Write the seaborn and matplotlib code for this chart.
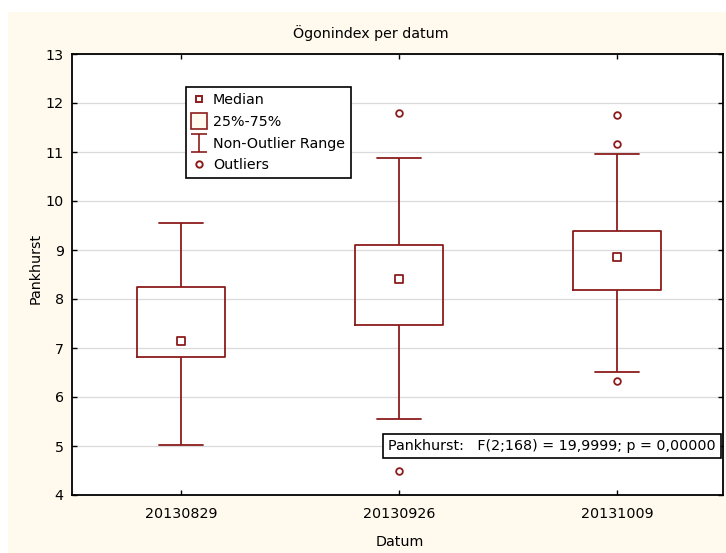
import matplotlib
matplotlib.use("Agg")
import numpy as np
import pandas as pd
import matplotlib.pyplot as plt
import seaborn as sns
from matplotlib.lines import Line2D
from matplotlib.path import Path
from matplotlib.patches import Rectangle

# ---- data ----
categories = ["20130829", "20130926", "20131009"]
whisker_lo = [5.02, 5.55, 6.52]
q1 = [6.81, 7.46, 8.19]
median = [7.15, 8.40, 8.85]
q3 = [8.25, 9.11, 9.38]
whisker_hi = [9.56, 10.87, 10.96]
outlier_cat = ["20130926", "20130926", "20131009", "20131009", "20131009"]
outlier_val = [11.79, 4.49, 11.76, 11.16, 6.32]
ytick_vals = [4, 5, 6, 7, 8, 9, 10, 11, 12, 13]
title = "Ögonindex per datum"
xlabel = "Datum"
ylabel = "Pankhurst"
stats_text = "Pankhurst:   F(2;168) = 19,9999; p = 0,00000"
legend_labels = ["Median", "25%-75%", "Non-Outlier Range", "Outliers"]

RED = "#8C1C1C"
CREAM = "#FFF9EE"
FS = 10.3

sns.set_style("ticks")
plt.rcParams["font.family"] = ["DejaVu Sans"]
plt.rcParams["text.color"] = "black"
plt.rcParams["axes.labelcolor"] = "black"
plt.rcParams["xtick.color"] = "black"
plt.rcParams["ytick.color"] = "black"

# five-number summary per group -> seaborn computes the same quartiles
rows = []
for c, lo, a, m, b, hi in zip(categories, whisker_lo, q1, median, q3, whisker_hi):
    for v in (lo, a, m, b, hi):
        rows.append({"Datum": c, "Pankhurst": v})
df = pd.DataFrame(rows)

fig = plt.figure(figsize=(7.26, 5.53), dpi=100, facecolor="white")
fig.patches.append(Rectangle((8 / 726, 0), 1, 1 - 12 / 553, transform=fig.transFigure,
                             facecolor=CREAM, edgecolor="none", zorder=-10))
ax = fig.add_axes([72 / 726, 58 / 553, 651 / 726, 441 / 553])
ax.set_facecolor("white")

sns.boxplot(data=df, x="Datum", y="Pankhurst", order=categories, whis=(0, 100),
            width=0.404, fill=False, color=RED, linecolor=RED, saturation=1,
            linewidth=1.3, showfliers=False, medianprops={"visible": False}, ax=ax)

sns.stripplot(x=outlier_cat, y=outlier_val, order=categories, jitter=False,
              marker="o", size=4.8, color="white", edgecolor=RED, linewidth=1.3,
              ax=ax, zorder=5)
sns.stripplot(x=categories, y=median, order=categories, jitter=False,
              marker="s", size=5.4, color="white", edgecolor=RED, linewidth=1.3,
              ax=ax, zorder=6)
for coll in ax.collections:
    coll.set_facecolor("white")
    coll.set_edgecolor(RED)

ax.set_xlim(-0.5, 2.486)
ax.set_ylim(4, 13)
ax.set_yticks(ytick_vals)
ax.set_yticklabels([str(v) for v in ytick_vals])
ax.set_xticks(range(len(categories)))
ax.set_xticklabels(categories)
ax.set_xlabel("")
ax.set_ylabel("")
ax.yaxis.grid(True, color="#dadada", linewidth=0.9)
ax.xaxis.grid(False)
ax.set_axisbelow(True)

for s in ax.spines.values():
    s.set_visible(True)
    s.set_color("black")
    s.set_linewidth(1.3)
ax.tick_params(axis="both", direction="in", length=3.5, width=1, top=True, right=True,
               labelsize=FS, colors="black")
ax.tick_params(axis="x", pad=8.5)
ax.tick_params(axis="y", pad=6.0)

fig.text(371 / 726, 1 - 33 / 553, title, ha="center", va="center", fontsize=FS)
fig.text(400 / 726, 1 - 542 / 553, xlabel, ha="center", va="center", fontsize=FS)
fig.text(36 / 726, 1 - 268 / 553, ylabel, ha="center", va="center", rotation=90, fontsize=FS)

# legend
ibeam = Path([(-0.85, 1), (0.85, 1), (0, 1), (0, -1), (-0.85, -1), (0.85, -1)],
             [Path.MOVETO, Path.LINETO, Path.MOVETO, Path.LINETO, Path.MOVETO, Path.LINETO])
handles = [
    Line2D([], [], ls="none", marker="s", ms=5.0, mfc="white", mec=RED, mew=1.4),
    Line2D([], [], ls="none", marker="s", ms=11.5, mfc=CREAM, mec=RED, mew=1.2),
    Line2D([], [], ls="none", marker=ibeam, ms=13.5, mfc="none", mec=RED, mew=1.2),
    Line2D([], [], ls="none", marker="o", ms=4.6, mfc="white", mec=RED, mew=1.4),
]
leg = ax.legend(handles, legend_labels, loc="upper left", bbox_to_anchor=(0.175, 0.925),
                frameon=True, fancybox=False, edgecolor="black", framealpha=1,
                fontsize=FS, borderpad=0.4, labelspacing=0.55, handlelength=1.0,
                handletextpad=0.5, borderaxespad=0)
leg.get_frame().set_linewidth(1.2)

ax.text(0.737, 0.110, stats_text, transform=ax.transAxes, ha="center", va="center",
        fontsize=FS, zorder=10,
        bbox=dict(boxstyle="square,pad=0.35", facecolor="white", edgecolor="black", linewidth=1.2))

fig.savefig("out.png", dpi=100, facecolor=fig.get_facecolor())
